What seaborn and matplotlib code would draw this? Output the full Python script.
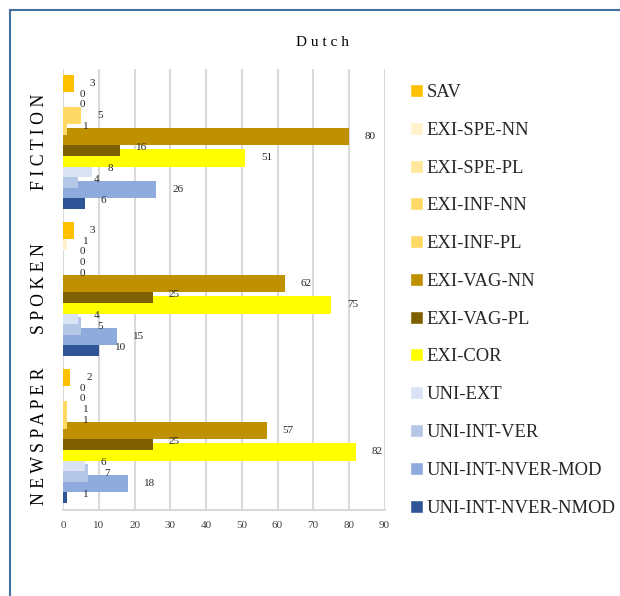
import matplotlib
matplotlib.use("Agg")
import matplotlib.pyplot as plt
import seaborn as sns
import pandas as pd
from matplotlib.patches import Rectangle

# Genres (y categories) and construction types (hue series)
genres = ["FICTION", "SPOKEN", "NEWSPAPER"]
series = ["SAV", "EXI-SPE-NN", "EXI-SPE-PL", "EXI-INF-NN", "EXI-INF-PL",
          "EXI-VAG-NN", "EXI-VAG-PL", "EXI-COR", "UNI-EXT", "UNI-INT-VER",
          "UNI-INT-NVER-MOD", "UNI-INT-NVER-NMOD"]

fiction_vals = [3, 0, 0, 5, 1, 80, 16, 51, 8, 4, 26, 6]
spoken_vals = [3, 1, 0, 0, 0, 62, 25, 75, 4, 5, 15, 10]
newspaper_vals = [2, 0, 0, 1, 1, 57, 25, 82, 6, 7, 18, 1]

series_colors = ["#FFC000", "#FFF2CC", "#FFE699", "#FFD966", "#FFD966",
                 "#BF9000", "#7F6000", "#FFFF00", "#DAE3F3", "#B4C7E7",
                 "#8FAADC", "#2F5597"]

x_ticks = [0, 10, 20, 30, 40, 50, 60, 70, 80, 90]

rows = []
for g, vals in zip(genres, [fiction_vals, spoken_vals, newspaper_vals]):
    for s, v in zip(series, vals):
        rows.append({"genre": g, "type": s, "count": v})
df = pd.DataFrame(rows)

sns.set_theme(style="white")
plt.rcParams["font.family"] = ["Liberation Serif", "DejaVu Serif"]

fig = plt.figure(figsize=(6.2, 5.96), dpi=100)
ax = fig.add_axes([63.3 / 620, (596 - 509.5) / 596, (384.6 - 63.3) / 620, 441 / 596])

n = len(series)
step = 0.0721
bar_h = 0.118
sns.barplot(data=df, y="genre", x="count", hue="type", order=genres,
            hue_order=series, palette=series_colors, orient="h",
            width=step * n, saturation=1, ax=ax, legend=True)

# Widen each bar so neighbouring series overlap; earlier series sit on top
bars = [p for p in ax.patches if isinstance(p, Rectangle)][: n * len(genres)]
for i, p in enumerate(bars):
    k = i // len(genres)
    c = p.get_y() + p.get_height() / 2
    p.set_y(c - bar_h / 2)
    p.set_height(bar_h)
    p.set_linewidth(0)
    p.set_zorder(50 - k)
    ax.annotate(f"{p.get_width():g}", xy=(p.get_width(), c),
                xytext=(11.5, 0), textcoords="offset points",
                ha="left", va="center", fontsize=8, color="#262626",
                zorder=100)

ax.set_xlim(0, 90)
ax.set_ylim(2.5, -0.5)
ax.set_xticks(x_ticks)
ax.set_xticklabels([str(t) for t in x_ticks], fontsize=8, color="#404040")
ax.tick_params(axis="x", length=0, pad=8)
ax.xaxis.grid(True, color="#D9D9D9", linewidth=1.5, zorder=0)
ax.set_axisbelow(True)
for side in ["top", "right", "left"]:
    ax.spines[side].set_visible(False)
ax.spines["bottom"].set_color("#D9D9D9")
ax.spines["bottom"].set_linewidth(1.5)
ax.set_xlabel("")
ax.set_ylabel("")
ax.set_yticks([0, 1, 2])
ax.set_yticklabels([" ".join(g) for g in genres], rotation=90, va="center",
                   fontsize=12.8, color="#000000")
ax.tick_params(axis="y", length=0, pad=11)

# Chart title
fig.text(322 / 620, 1 - 42 / 596, " ".join("Dutch"), ha="center", va="center",
         fontsize=11, color="#000000")

# Legend on the right
handles, labels = ax.get_legend_handles_labels()
ax.get_legend().remove()
leg = fig.legend(handles, labels, loc="upper left",
                 bbox_to_anchor=(410 / 620, 1 - 84 / 596),
                 frameon=False, fontsize=13.4, handlelength=0.7,
                 handleheight=0.7, handletextpad=0.2, labelspacing=1.115,
                 borderaxespad=0, borderpad=0)

# Outer chart border (left and top edges visible)
fig.add_artist(Rectangle((9.5 / 620, -0.1), 2, 1 - 9.5 / 596 + 0.1,
                         transform=fig.transFigure, fill=False,
                         edgecolor="#41719C", linewidth=1.5))

fig.savefig("out.png", dpi=100)
